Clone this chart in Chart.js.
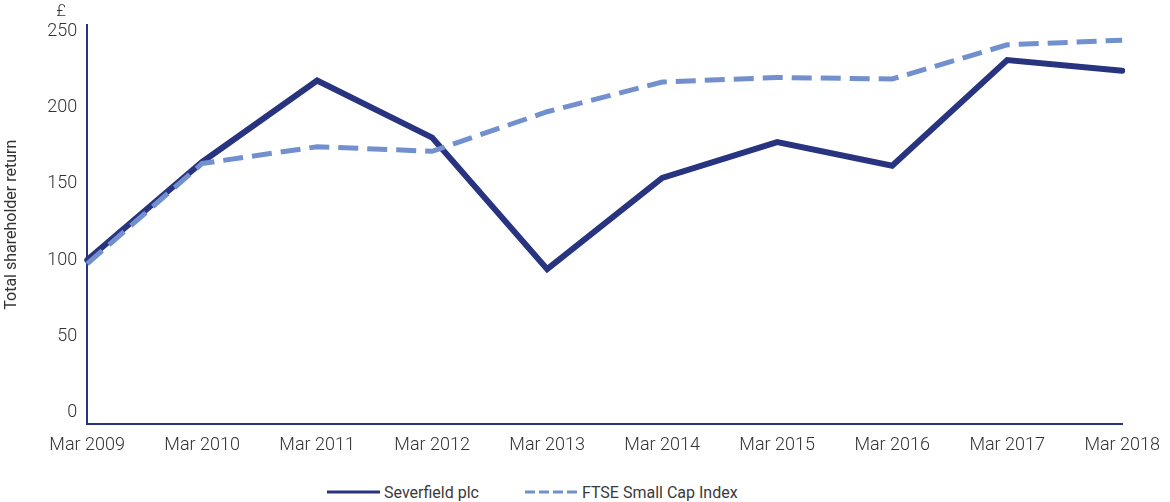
<!DOCTYPE html>
<html>
<head>
<meta charset="utf-8">
<script src="https://cdn.jsdelivr.net/npm/chart.js@4"></script>
<style>
  html, body { margin: 0; padding: 0; background: #fff; }
  #wrap { width: 1170px; height: 502px; position: relative; font-family: Roboto, sans-serif; }
  #box { width: 1170px; height: 466px; position: relative; }
  #legend { display: flex; justify-content: flex-start; align-items: center; height: 30px;
            padding-top: 11px; padding-left: 327px; font-size: 16px; font-weight: 400; color: #3a3a3a; }
  .item { display: flex; align-items: center; margin-right: 46px; }
  .item svg { margin-right: 4px; }
</style>
</head>
<body>
<div id="wrap">
  <div id="box"><canvas id="tsrChart"></canvas></div>
  <div id="legend"></div>
</div>
<script>
const years = ['Mar 2009', 'Mar 2010', 'Mar 2011', 'Mar 2012', 'Mar 2013',
               'Mar 2014', 'Mar 2015', 'Mar 2016', 'Mar 2017', 'Mar 2018'];
const severfield = [100, 164.5, 218, 180.5, 94, 154, 177.5, 162, 231.5, 224.5];
const ftseSmallCap = [97.5, 163.5, 174.5, 171.5, 197.5, 217, 220, 219, 241.5, 244.5];
const yTicks = [0, 50, 100, 150, 200, 250];

const navy = '#28347f';
const lightBlue = '#7190cd';
const textColor = '#333333';

document.addEventListener("DOMContentLoaded", () => {
    Chart.defaults.font.family = 'Roboto, sans-serif';
    Chart.defaults.font.size = 18;
    Chart.defaults.font.weight = 300;
    Chart.defaults.color = textColor;

    // little "£" above the y axis
    const poundLabel = {
        id: 'poundLabel',
        afterDraw(chart) {
            const y = chart.scales.y;
            const ctx = chart.ctx;
            ctx.save();
            ctx.font = '300 17px Roboto, sans-serif';
            ctx.fillStyle = textColor;
            ctx.textAlign = 'center';
            ctx.textBaseline = 'middle';
            ctx.fillText('£', y.right - 26, chart.chartArea.top - 13);
            ctx.restore();
        }
    };

    const ctx = document.getElementById('tsrChart').getContext('2d');
    const chart = new Chart(ctx, {
        type: 'line',
        data: {
            labels: years,
            datasets: [{
                label: 'Severfield plc',
                data: severfield,
                borderColor: navy,
                backgroundColor: navy,
                borderWidth: 6,
                borderCapStyle: 'round',
                borderJoinStyle: 'miter',
                pointRadius: 0,
                tension: 0,
                order: 1
            }, {
                label: 'FTSE Small Cap Index',
                data: ftseSmallCap,
                borderColor: lightBlue,
                backgroundColor: lightBlue,
                borderWidth: 5,
                borderDash: [20, 9],
                borderJoinStyle: 'miter',
                pointRadius: 0,
                tension: 0,
                order: 0
            }]
        },
        options: {
            responsive: true,
            maintainAspectRatio: false,
            animation: false,
            layout: { padding: { top: 25, right: 47, bottom: 0, left: 0 } },
            plugins: {
                legend: { display: false },
                tooltip: { enabled: false }
            },
            scales: {
                x: {
                    offset: false,
                    grid: { drawOnChartArea: false, drawTicks: false, color: 'transparent' },
                    border: { display: true, color: navy, width: 2 },
                    ticks: { padding: 10, maxRotation: 0, autoSkip: false }
                },
                y: {
                    min: -8,
                    max: 254.5,
                    afterBuildTicks: axis => { axis.ticks = yTicks.map(v => ({ value: v })); },
                    grid: { drawOnChartArea: false, drawTicks: false, color: 'transparent' },
                    border: { display: true, color: navy, width: 2 },
                    ticks: { padding: 10 },
                    title: {
                        display: true,
                        text: 'Total shareholder return',
                        font: { size: 16, weight: 400 },
                        padding: { top: 2, bottom: 16 }
                    }
                }
            }
        },
        plugins: [poundLabel]
    });

    // html legend built from the datasets
    const legend = document.getElementById('legend');
    chart.data.datasets.forEach(ds => {
        const item = document.createElement('div');
        item.className = 'item';
        const dash = ds.borderDash ? 'stroke-dasharray="10 4"' : '';
        item.innerHTML = '<svg width="53" height="6"><line x1="0" y1="3" x2="53" y2="3" stroke="' +
            ds.borderColor + '" stroke-width="3" ' + dash + '/></svg><span>' + ds.label + '</span>';
        legend.appendChild(item);
    });
});
</script>
</body>
</html>
